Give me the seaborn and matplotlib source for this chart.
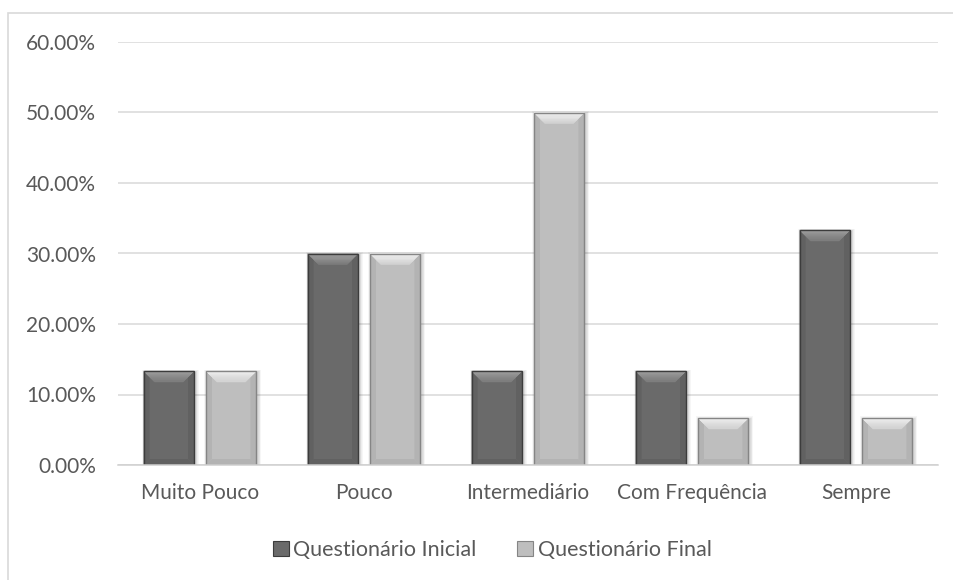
import matplotlib
matplotlib.use("Agg")
import matplotlib.pyplot as plt
from matplotlib.patches import Polygon, Rectangle, Patch
from matplotlib.ticker import PercentFormatter, MultipleLocator
from matplotlib.colors import to_rgb
import seaborn as sns
import pandas as pd
import numpy as np

categories = ["Muito Pouco", "Pouco", "Intermediário", "Com Frequência", "Sempre"]
series_names = ["Questionário Inicial", "Questionário Final"]
inicial = [0.1333, 0.30, 0.1333, 0.1333, 0.3333]
final = [0.1333, 0.30, 0.50, 0.0667, 0.0667]

df = pd.DataFrame({
    "categoria": categories * 2,
    "serie": [series_names[0]] * len(categories) + [series_names[1]] * len(categories),
    "valor": inicial + final,
})

body = {series_names[0]: "#6a6a6a", series_names[1]: "#bebebe"}
bevel_outer = {series_names[0]: "#a4a4a4", series_names[1]: "#f4f4f4"}
bevel_inner = {series_names[0]: "#7c7c7c", series_names[1]: "#d2d2d2"}
side_bevel = {series_names[0]: "#616161", series_names[1]: "#b3b3b3"}
edge = {series_names[0]: "#3c3c3c", series_names[1]: "#858585"}

sns.set_theme(style="white")
plt.rcParams["font.family"] = ["Lato", "DejaVu Sans"]

W, H = 954, 580
fig = plt.figure(figsize=(W / 100, H / 100), dpi=100)
ax = fig.add_axes([118 / W, 1 - 465 / H, (938 - 118) / W, (465 - 42) / H])

sns.barplot(data=df, x="categoria", y="valor", hue="serie", order=categories,
            hue_order=series_names, palette=body, width=0.76, gap=0.19,
            ax=ax, legend=False, zorder=3, linewidth=0)

ax.set_ylim(0, 0.6)
ax.set_xlim(-0.5, len(categories) - 0.5)
ax.yaxis.set_major_locator(MultipleLocator(0.1))
ax.yaxis.set_major_formatter(PercentFormatter(xmax=1, decimals=2))
ax.grid(axis="y", color="#d9d9d9", linewidth=1.1, zorder=0)
ax.grid(axis="x", visible=False)
for s in ["top", "right", "left"]:
    ax.spines[s].set_visible(False)
ax.spines["bottom"].set_color("#d0d0d0")
ax.spines["bottom"].set_linewidth(1.1)
ax.spines["bottom"].set_zorder(5)
ax.set_xlabel("")
ax.set_ylabel("")
ax.tick_params(axis="y", length=0, pad=16, labelsize=15, labelcolor="#595959")
ax.tick_params(axis="x", length=0, pad=13, labelsize=15, labelcolor="#595959")

# bevelled look on each bar
fig.canvas.draw()
inv = ax.transData.inverted()
p0 = inv.transform((0, 0))


def px2data(dx, dy):
    p = inv.transform((dx, dy))
    return p[0] - p0[0], p[1] - p0[1]


bx, by = px2data(11, 11)
sx, sy = px2data(6, 6)
ux, uy = px2data(1, 1)
steps = 10

n = len(categories)
for i, bar in enumerate(list(ax.patches)):
    name = series_names[i // n]
    L = bar.get_x()
    R = L + bar.get_width()
    B = 0
    T = bar.get_height()
    # soft shadow around the bar
    for k in range(1, 6):
        ax.add_patch(Rectangle((L - ux * k * 0.6 + ux * 1.5, B), R - L + ux * k * 1.2,
                               T + uy * (k * 0.6 - 1.5),
                               facecolor="#000000", alpha=0.035, linewidth=0, zorder=2))
    bar.set_zorder(3)
    ax.add_patch(Polygon([(L, B), (L, T), (L + sx, T - sy), (L + sx, B + sy)],
                         closed=True, facecolor=side_bevel[name], linewidth=0, zorder=4))
    ax.add_patch(Polygon([(R, B), (R, T), (R - sx, T - sy), (R - sx, B + sy)],
                         closed=True, facecolor=side_bevel[name], linewidth=0, zorder=4))
    ax.add_patch(Polygon([(L, B), (R, B), (R - sx, B + sy), (L + sx, B + sy)],
                         closed=True, facecolor=side_bevel[name], linewidth=0, zorder=4))
    c_out = np.array(to_rgb(bevel_outer[name]))
    c_in = np.array(to_rgb(bevel_inner[name]))
    for s in range(steps):
        f0, f1 = s / steps, (s + 1) / steps
        col = c_out + (c_in - c_out) * (f0 + f1) / 2
        ax.add_patch(Polygon([(L + bx * f0, T - by * f0), (R - bx * f0, T - by * f0),
                              (R - bx * f1, T - by * f1), (L + bx * f1, T - by * f1)],
                             closed=True, facecolor=col, edgecolor=col, linewidth=0.3, zorder=4.2))
    ax.add_patch(Rectangle((L, B), R - L, T, facecolor="none", edgecolor=edge[name],
                           linewidth=1.0, zorder=4.5))

handles = [Patch(facecolor=body[s], edgecolor=edge[s], linewidth=0.8) for s in series_names]
fig.legend(handles, series_names, loc="center", bbox_to_anchor=(492 / W, 1 - 550 / H),
           ncol=2, frameon=False, fontsize=15.5, labelcolor="#595959",
           handlelength=0.75, handleheight=0.75, handletextpad=0.2, columnspacing=1.9)

# chart frame
fig.patches.append(Rectangle((8.5 / W, -0.05), 1.2, 1 - 13 / H + 0.05, transform=fig.transFigure,
                             facecolor="none", edgecolor="#d9d9d9", linewidth=1.2))

fig.savefig("out.png", dpi=100)
